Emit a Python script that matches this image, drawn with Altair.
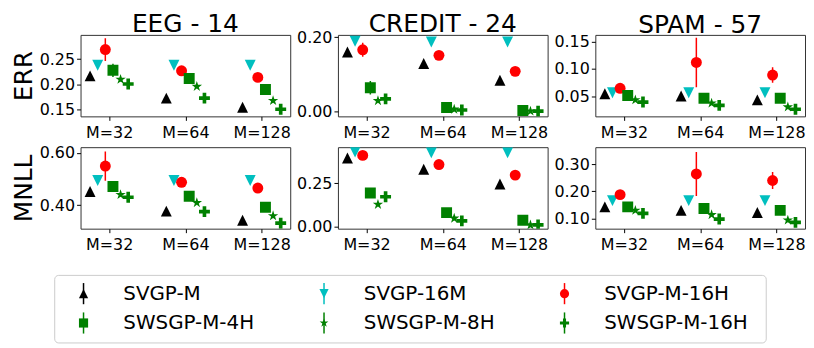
import math
import altair as alt
import pandas as pd

METHODS = ["SVGP-M", "SVGP-16M", "SVGP-M-16H", "SWSGP-M-4H", "SWSGP-M-8H", "SWSGP-M-16H"]
COLORS = ["#000000", "#00bfbf", "#ff0000", "#008000", "#008000", "#008000"]
M_LABELS = ["M=32", "M=64", "M=128"]
DATASETS = ["EEG - 14", "CREDIT - 24", "SPAM - 57"]
METRICS = ["ERR", "MNLL"]

# rows: methods (same order as METHODS); columns: M=32, M=64, M=128
EEG_ERR = [
    [0.217, 0.173, 0.155],
    [0.238, 0.238, 0.238],
    [0.269, 0.227, 0.214],
    [0.228, 0.212, 0.190],
    [0.210, 0.196, 0.168],
    [0.201, 0.173, 0.151],
]
EEG_ERR_SD = [
    [0.002, 0.002, 0.002],
    [0.002, 0.002, 0.002],
    [0.0225, 0.004, 0.004],
    [0.013, 0.003, 0.003],
    [0.004, 0.003, 0.003],
    [0.004, 0.003, 0.003],
]
CREDIT_ERR = [
    [0.160, 0.129, 0.084],
    [0.189, 0.187, 0.187],
    [0.166, 0.151, 0.108],
    [0.064, 0.011, 0.003],
    [0.029, 0.006, 0.001],
    [0.034, 0.004, 0.001],
]
CREDIT_ERR_SD = [
    [0.003, 0.003, 0.003],
    [0.002, 0.002, 0.002],
    [0.0187, 0.004, 0.004],
    [0.018, 0.003, 0.002],
    [0.004, 0.002, 0.001],
    [0.004, 0.002, 0.001],
]
SPAM_ERR = [
    [0.055, 0.051, 0.044],
    [0.057, 0.057, 0.057],
    [0.065, 0.112, 0.089],
    [0.052, 0.047, 0.047],
    [0.044, 0.038, 0.031],
    [0.040, 0.034, 0.027],
]
SPAM_ERR_SD = [
    [0.002, 0.002, 0.002],
    [0.001, 0.001, 0.001],
    [0.004, 0.045, 0.014],
    [0.003, 0.003, 0.003],
    [0.002, 0.002, 0.002],
    [0.002, 0.002, 0.002],
]
EEG_MNLL = [
    [0.452, 0.377, 0.342],
    [0.494, 0.494, 0.494],
    [0.549, 0.487, 0.465],
    [0.471, 0.434, 0.392],
    [0.440, 0.409, 0.359],
    [0.430, 0.375, 0.331],
]
EEG_MNLL_SD = [
    [0.004, 0.004, 0.004],
    [0.003, 0.003, 0.003],
    [0.056, 0.006, 0.006],
    [0.006, 0.005, 0.005],
    [0.006, 0.005, 0.005],
    [0.006, 0.005, 0.005],
]
CREDIT_MNLL = [
    [0.396, 0.331, 0.246],
    [0.430, 0.426, 0.426],
    [0.411, 0.358, 0.297],
    [0.193, 0.080, 0.036],
    [0.127, 0.047, 0.008],
    [0.172, 0.032, 0.009],
]
CREDIT_MNLL_SD = [
    [0.005, 0.005, 0.005],
    [0.004, 0.004, 0.004],
    [0.010, 0.006, 0.006],
    [0.015, 0.005, 0.004],
    [0.006, 0.004, 0.003],
    [0.006, 0.004, 0.003],
]
SPAM_MNLL = [
    [0.143, 0.130, 0.122],
    [0.166, 0.166, 0.166],
    [0.188, 0.264, 0.240],
    [0.143, 0.137, 0.130],
    [0.130, 0.114, 0.094],
    [0.119, 0.098, 0.086],
]
SPAM_MNLL_SD = [
    [0.003, 0.003, 0.003],
    [0.002, 0.002, 0.002],
    [0.005, 0.081, 0.031],
    [0.004, 0.004, 0.004],
    [0.003, 0.003, 0.003],
    [0.003, 0.003, 0.003],
]

Y_DOMAINS = {
    ("EEG - 14", "ERR"): [0.137, 0.298],
    ("CREDIT - 24", "ERR"): [-0.013, 0.206],
    ("SPAM - 57", "ERR"): [0.014, 0.162],
    ("EEG - 14", "MNLL"): [0.310, 0.621],
    ("CREDIT - 24", "MNLL"): [-0.013, 0.4585],
    ("SPAM - 57", "MNLL"): [0.0627, 0.3626],
}
Y_TICKS = {
    ("EEG - 14", "ERR"): [0.15, 0.20, 0.25],
    ("CREDIT - 24", "ERR"): [0.00, 0.20],
    ("SPAM - 57", "ERR"): [0.05, 0.10, 0.15],
    ("EEG - 14", "MNLL"): [0.40, 0.60],
    ("CREDIT - 24", "MNLL"): [0.00, 0.25],
    ("SPAM - 57", "MNLL"): [0.10, 0.20, 0.30],
}
VALUES = {
    ("EEG - 14", "ERR"): (EEG_ERR, EEG_ERR_SD),
    ("CREDIT - 24", "ERR"): (CREDIT_ERR, CREDIT_ERR_SD),
    ("SPAM - 57", "ERR"): (SPAM_ERR, SPAM_ERR_SD),
    ("EEG - 14", "MNLL"): (EEG_MNLL, EEG_MNLL_SD),
    ("CREDIT - 24", "MNLL"): (CREDIT_MNLL, CREDIT_MNLL_SD),
    ("SPAM - 57", "MNLL"): (SPAM_MNLL, SPAM_MNLL_SD),
}
# title offsets compensate for tick labels that stick out above some panels
TITLE_OFFSETS = [-2, -8, -4]

# legend placement (column, row) of each method
LEG_COL = [0, 1, 2, 0, 1, 2]
LEG_ROW = [0, 0, 0, 1, 1, 1]


def star_path(n=5, inner=0.381966):
    pts = []
    for k in range(2 * n):
        a = -math.pi / 2 + k * math.pi / n
        r = 1.0 if k % 2 == 0 else inner
        pts.append(f"{r * math.cos(a):.4f},{r * math.sin(a):.4f}")
    return "M" + "L".join(pts) + "Z"


TRI_UP = "M0,-1L1,1L-1,1Z"
TRI_DOWN = "M0,1L1,-1L-1,-1Z"
PLUS = ("M-0.3333,-1L0.3333,-1L0.3333,-0.3333L1,-0.3333L1,0.3333L0.3333,0.3333"
        "L0.3333,1L-0.3333,1L-0.3333,0.3333L-1,0.3333L-1,-0.3333L-0.3333,-0.3333Z")
SHAPES = [TRI_UP, TRI_DOWN, "circle", "square", star_path(), PLUS]

FONT = "DejaVu Sans"
color_scale = alt.Scale(domain=METHODS, range=COLORS)
shape_scale = alt.Scale(domain=METHODS, range=SHAPES)

label_expr = " : ".join(
    f"datum.value == {i} ? '{lab}'" for i, lab in enumerate(M_LABELS[:-1])
) + f" : '{M_LABELS[-1]}'"

PW, PH = 211, 82
MSIZE = 121


def panel(c, ds, metric, show_title, show_ytitle):
    vals, sds = VALUES[(ds, metric)]
    rows = []
    for j, m in enumerate(METHODS):
        for i in range(len(M_LABELS)):
            v = vals[j][i]
            s = sds[j][i]
            rows.append({"method": m, "pos": i + (j - 2.5) * 0.1, "v": v,
                         "lo": v - s, "hi": v + s})
    df = pd.DataFrame(rows)
    xenc = alt.X(
        "pos:Q",
        scale=alt.Scale(domain=[-0.375, 2.375], nice=False, zero=False),
        axis=alt.Axis(values=[0, 1, 2], labelExpr=label_expr, title=None, grid=False,
                      domain=False, tickSize=4, labelPadding=4, labelFontSize=16,
                      labelFont=FONT, labelColor="black", tickColor="black",
                      labelOverlap=False, labelFlush=False),
    )
    yax = dict(values=Y_TICKS[(ds, metric)], format=".2f", grid=False, domain=False,
               tickSize=4, labelPadding=2, labelFontSize=16, labelFont=FONT,
               labelColor="black", tickColor="black")
    if show_ytitle:
        yax.update(title=metric, titleFontSize=25, titleFont=FONT,
                   titleFontWeight="normal", titleColor="black", titlePadding=3)
    else:
        yax["title"] = None
    yscale = alt.Scale(domain=Y_DOMAINS[(ds, metric)], nice=False, zero=False)
    base = alt.Chart(df)
    rules = base.mark_rule(strokeWidth=1.5, clip=True).encode(
        x=xenc,
        y=alt.Y("lo:Q", scale=yscale, axis=alt.Axis(**yax)),
        y2="hi:Q",
        color=alt.Color("method:N", scale=color_scale, legend=None),
    )
    pts = base.mark_point(filled=True, size=MSIZE, opacity=1, strokeWidth=0, clip=True).encode(
        x=xenc,
        y=alt.Y("v:Q", scale=yscale, axis=alt.Axis(**yax)),
        color=alt.Color("method:N", scale=color_scale, legend=None),
        shape=alt.Shape("method:N", scale=shape_scale, legend=None),
    )
    props = dict(width=PW, height=PH)
    if show_title:
        props["title"] = alt.Title(ds, fontSize=25, font=FONT, fontWeight="normal",
                                   color="black", offset=TITLE_OFFSETS[c])
    return alt.layer(rules, pts).properties(**props)


rows_charts = []
for r, metric in enumerate(METRICS):
    rows_charts.append(alt.hconcat(
        *[panel(c, ds, metric, r == 0, c == 0) for c, ds in enumerate(DATASETS)],
        spacing=4,
    ))

# legend: its plot area starts at the panels' left edge; the frame reaches further left
leg_df = pd.DataFrame({
    "method": METHODS,
    "col": LEG_COL,
    "row": LEG_ROW,
})
leg_df["lo"] = leg_df["row"] - 0.36
leg_df["hi"] = leg_df["row"] + 0.36
LW, LH = 690, 68
FRAME_LEFT = -26
lx = alt.X("col:Q", scale=alt.Scale(domain=[-3 / 242, (LW - 3) / 242], nice=False, zero=False), axis=None)
lyscale = alt.Scale(domain=[-0.622, 1.680], nice=False, zero=False, reverse=True)
lbase = alt.Chart(leg_df)
frame = alt.Chart(pd.DataFrame({"a": [0]})).mark_rect(
    fillOpacity=0, stroke="#cccccc", strokeWidth=1, cornerRadius=4
).encode(x=alt.value(FRAME_LEFT), x2=alt.value(LW), y=alt.value(0), y2=alt.value(LH))
leg = alt.layer(
    frame,
    lbase.mark_rule(strokeWidth=1.5).encode(
        x=lx, y=alt.Y("lo:Q", scale=lyscale, axis=None), y2="hi:Q",
        color=alt.Color("method:N", scale=color_scale, legend=None)),
    lbase.mark_point(filled=True, size=85, opacity=1, strokeWidth=0).encode(
        x=lx, y=alt.Y("row:Q", scale=lyscale, axis=None),
        color=alt.Color("method:N", scale=color_scale, legend=None),
        shape=alt.Shape("method:N", scale=shape_scale, legend=None)),
    lbase.mark_text(align="left", baseline="middle", dx=40, fontSize=20, font=FONT,
                    color="black").encode(
        x=lx, y=alt.Y("row:Q", scale=lyscale, axis=None), text="method:N"),
).properties(width=LW, height=LH,
             view=alt.ViewBackground(stroke="white", strokeWidth=0))

chart = alt.vconcat(
    alt.vconcat(rows_charts[0], rows_charts[1], spacing=3),
    leg,
    spacing=21,
).properties(
    padding={"left": 2, "top": 2, "right": 0, "bottom": 0},
    background="white",
).configure_view(stroke="#333333", strokeWidth=1)

chart.save("out.html", embed_options={"renderer": "svg", "actions": False})
